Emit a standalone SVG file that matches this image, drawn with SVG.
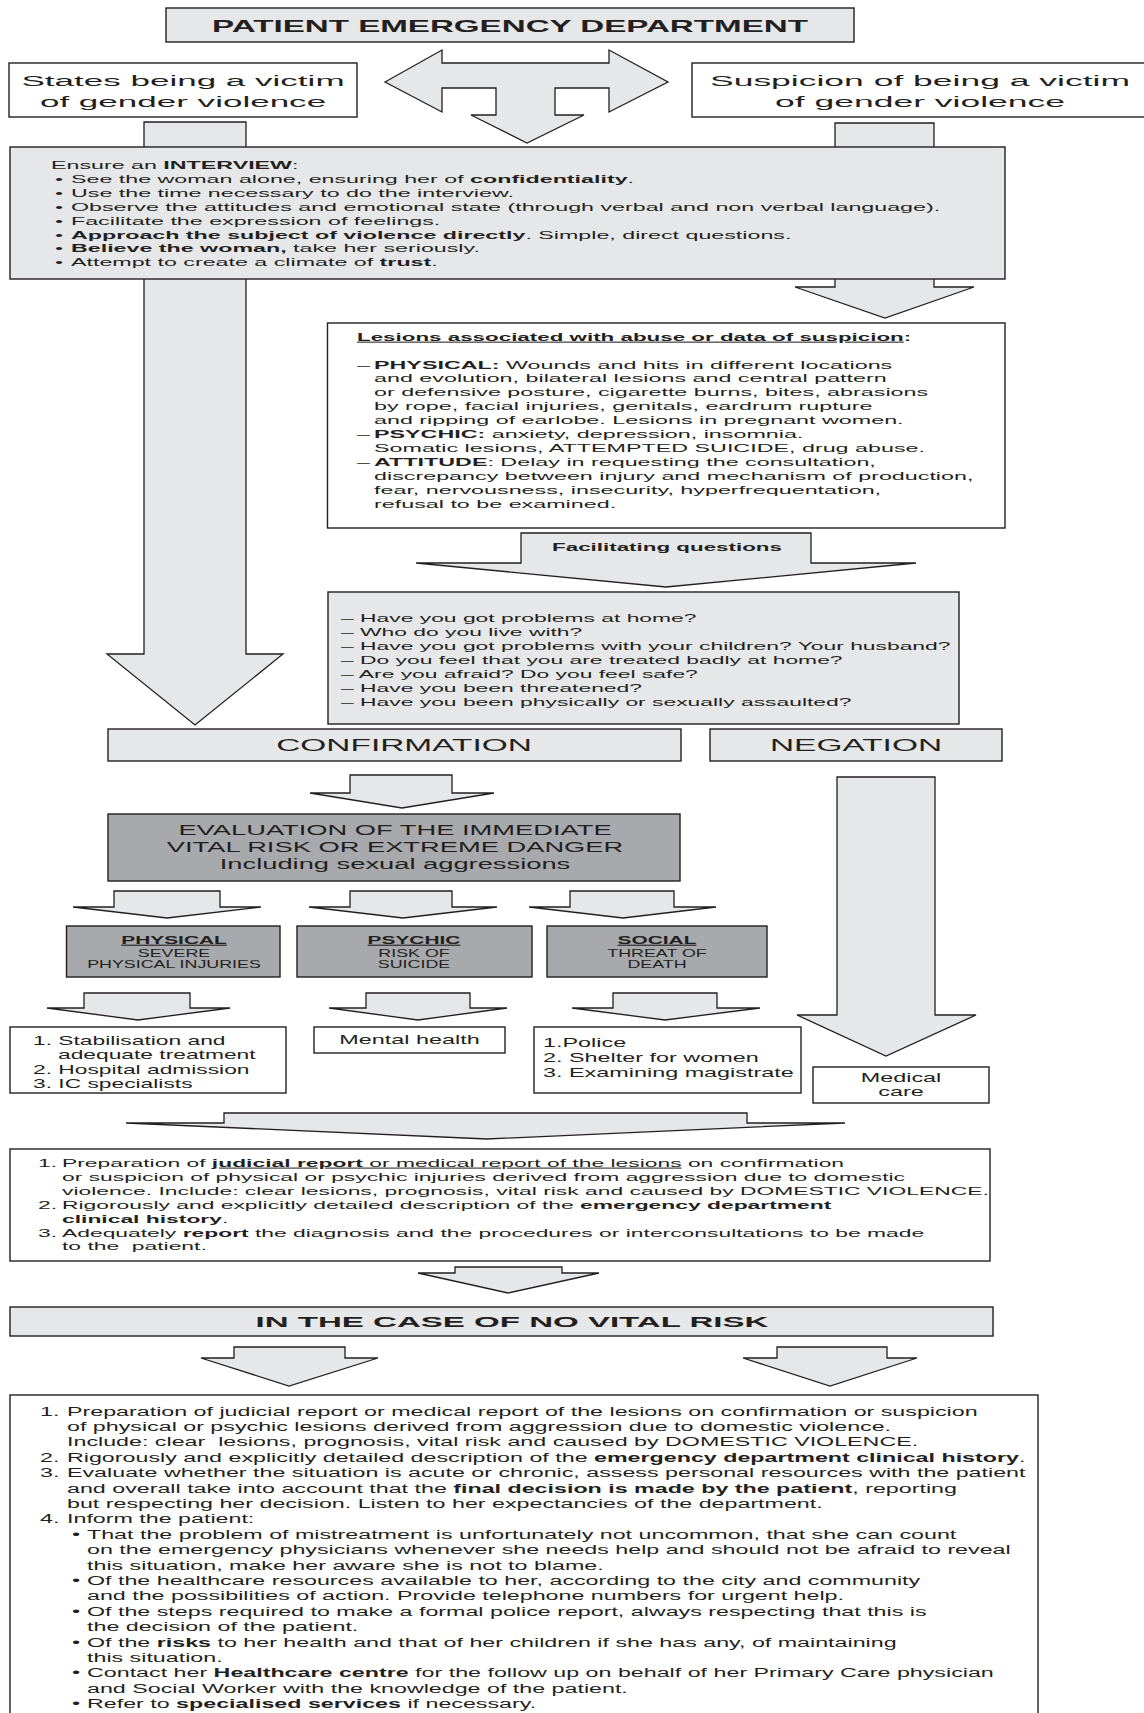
<svg xmlns="http://www.w3.org/2000/svg" width="1144" height="1713" viewBox="0 0 1144 1713">
<style>
.lt{fill:#e6e7e8;stroke:#231f20;stroke-width:1.4}
.dk{fill:#a7a9ac;stroke:#231f20;stroke-width:1.4}
.wh{fill:#ffffff;stroke:#231f20;stroke-width:1.4}
.ar{fill:#e6e7e8;stroke:#231f20;stroke-width:1.3;stroke-linejoin:miter}
text{font-family:"Liberation Sans",Arial,sans-serif;fill:#231f20}
.f10{font-size:10.2px}
.f105{font-size:10.5px}
.f11{font-size:11px}
.f12{font-size:12px}
.f125{font-size:12.5px}
.f14{font-size:14px}
.f145{font-size:14.5px}
.f155{font-size:15.5px}
.f16{font-size:16px}
.f17{font-size:17px}
.b{font-weight:bold}
.u{text-decoration:underline}
.m{text-anchor:middle}
</style>
<rect width="1144" height="1713" fill="#ffffff"/>

<g id="connectors">
  <polygon class="ar" points="385,82 442,50 442,63 609,63 609,50 668,82 609,112 609,88 555,88 555,115 584,115 527,143 471,115 496,115 496,88 442,88 442,112"/>
  <polygon class="ar" points="144,122 246,122 246,654 283,654 195,725 107,654 144,654"/>
  <polygon class="ar" points="835,123 934,123 934,287 974,287 885,318 795,287 835,287"/>
  <polygon class="ar" points="521,533 811,533 811,563 916,563 666,587 416,563 521,563"/>
  <text class="f105 b m" transform="matrix(2.13 0 0 1 667 551)">Facilitating questions</text>
  <polygon class="ar" points="350,775 452,775 452,793 494,793 402,808 310,793 350,793"/>
  <polygon class="ar" points="837,777 935,777 935,1015 976,1015 886,1056 797,1015 837,1015"/>
  <polygon class="ar" points="114,891 220,891 220,907 261,907 167,918 73,907 114,907"/>
  <polygon class="ar" points="350,891 452,891 452,907 497,907 403,918 309,907 350,907"/>
  <polygon class="ar" points="570,891 674,891 674,907 716,907 623,918 529,907 570,907"/>
  <polygon class="ar" points="84,993 190,993 190,1008 230,1008 138,1020 47,1008 84,1008"/>
  <polygon class="ar" points="366,993 470,993 470,1008 507,1008 418,1020 329,1008 366,1008"/>
  <polygon class="ar" points="613,993 717,993 717,1008 760,1008 665,1020 572,1008 613,1008"/>
  <polygon class="ar" points="224,1113 747,1113 747,1123 845,1123 487,1139 126,1123 224,1123"/>
  <polygon class="ar" points="455,1267 562,1267 562,1273 599,1273 508,1293 418,1273 455,1273"/>
  <polygon class="ar" points="234,1347 345,1347 345,1358 378,1358 289,1386 201,1358 234,1358"/>
  <polygon class="ar" points="777,1347 887,1347 887,1358 917,1358 830,1386 743,1358 777,1358"/>
</g>

<g id="n-title">
  <rect class="lt" x="166" y="8" width="688" height="34"/>
  <text class="f17 b m" transform="matrix(1.95 0 0 1 510 32)">PATIENT EMERGENCY DEPARTMENT</text>
</g>

<g id="n-states">
  <rect class="wh" x="9" y="63" width="348" height="54"/>
  <text class="f155 m" transform="matrix(2.26 0 0 1 183 86)">States being a victim</text>
  <text class="f155 m" transform="matrix(2.26 0 0 1 183 107)">of gender violence</text>
</g>

<g id="n-suspicion">
  <rect class="wh" x="692" y="63" width="460" height="54"/>
  <text class="f155 m" transform="matrix(2.29 0 0 1 920 86)">Suspicion of being a victim</text>
  <text class="f155 m" transform="matrix(2.29 0 0 1 920 107)">of gender violence</text>
</g>

<g id="n-interview">
  <rect class="lt" x="10" y="147" width="995" height="132"/>
  <text class="f10" transform="matrix(2.28 0 0 1 51 169)">Ensure an <tspan class="b">INTERVIEW</tspan>:</text>
  <text class="f10" transform="matrix(2.28 0 0 1 55 182.9)">•</text>
  <text class="f10" transform="matrix(2.28 0 0 1 71 182.9)">See the woman alone, ensuring her of <tspan class="b">confidentiality</tspan>.</text>
  <text class="f10" transform="matrix(2.28 0 0 1 55 196.8)">•</text>
  <text class="f10" transform="matrix(2.28 0 0 1 71 196.8)">Use the time necessary to do the interview.</text>
  <text class="f10" transform="matrix(2.28 0 0 1 55 210.7)">•</text>
  <text class="f10" transform="matrix(2.28 0 0 1 71 210.7)">Observe the attitudes and emotional state (through verbal and non verbal language).</text>
  <text class="f10" transform="matrix(2.28 0 0 1 55 224.6)">•</text>
  <text class="f10" transform="matrix(2.28 0 0 1 71 224.6)">Facilitate the expression of feelings.</text>
  <text class="f10" transform="matrix(2.28 0 0 1 55 238.5)">•</text>
  <text class="f10" transform="matrix(2.28 0 0 1 71 238.5)"><tspan class="b">Approach the subject of violence directly</tspan>. Simple, direct questions.</text>
  <text class="f10" transform="matrix(2.28 0 0 1 55 252.4)">•</text>
  <text class="f10" transform="matrix(2.28 0 0 1 71 252.4)"><tspan class="b">Believe the woman,</tspan> take her seriously.</text>
  <text class="f10" transform="matrix(2.28 0 0 1 55 266.3)">•</text>
  <text class="f10" transform="matrix(2.28 0 0 1 71 266.3)">Attempt to create a climate of <tspan class="b">trust</tspan>.</text>
</g>

<g id="n-lesions">
  <rect class="wh" x="327.5" y="323" width="677.5" height="205"/>
  <text class="f105 b" transform="matrix(2.13 0 0 1 357 341)"><tspan class="u">Lesions associated with abuse or data of suspicion</tspan>:</text>
  <text class="f105" transform="matrix(2.22 0 0 1 357 368.5)">–</text>
  <text class="f105" transform="matrix(2.22 0 0 1 374 368.5)"><tspan class="b">PHYSICAL:</tspan> Wounds and hits in different locations</text>
  <text class="f105" transform="matrix(2.22 0 0 1 374 382.45)">and evolution, bilateral lesions and central pattern</text>
  <text class="f105" transform="matrix(2.22 0 0 1 374 396.4)">or defensive posture, cigarette burns, bites, abrasions</text>
  <text class="f105" transform="matrix(2.22 0 0 1 374 410.35)">by rope, facial injuries, genitals, eardrum rupture</text>
  <text class="f105" transform="matrix(2.22 0 0 1 374 424.3)">and ripping of earlobe. Lesions in pregnant women.</text>
  <text class="f105" transform="matrix(2.22 0 0 1 357 438.25)">–</text>
  <text class="f105" transform="matrix(2.22 0 0 1 374 438.25)"><tspan class="b">PSYCHIC:</tspan> anxiety, depression, insomnia.</text>
  <text class="f105" transform="matrix(2.22 0 0 1 374 452.2)">Somatic lesions, ATTEMPTED SUICIDE, drug abuse.</text>
  <text class="f105" transform="matrix(2.22 0 0 1 357 466.15)">–</text>
  <text class="f105" transform="matrix(2.22 0 0 1 374 466.15)"><tspan class="b">ATTITUDE</tspan>: Delay in requesting the consultation,</text>
  <text class="f105" transform="matrix(2.22 0 0 1 374 480.1)">discrepancy between injury and mechanism of production,</text>
  <text class="f105" transform="matrix(2.22 0 0 1 374 494.05)">fear, nervousness, insecurity, hyperfrequentation,</text>
  <text class="f105" transform="matrix(2.22 0 0 1 374 508)">refusal to be examined.</text>
</g>

<g id="n-questions">
  <rect class="lt" x="328" y="592" width="631" height="132"/>
  <text class="f10" transform="matrix(2.24 0 0 1 341 622)">– Have you got problems at home?</text>
  <text class="f10" transform="matrix(2.24 0 0 1 341 636)">– Who do you live with?</text>
  <text class="f10" transform="matrix(2.24 0 0 1 341 650)">– Have you got problems with your children? Your husband?</text>
  <text class="f10" transform="matrix(2.24 0 0 1 341 664)">– Do you feel that you are treated badly at home?</text>
  <text class="f10" transform="matrix(2.24 0 0 1 341 678)">– Are you afraid? Do you feel safe?</text>
  <text class="f10" transform="matrix(2.24 0 0 1 341 692)">– Have you been threatened?</text>
  <text class="f10" transform="matrix(2.24 0 0 1 341 706)">– Have you been physically or sexually assaulted?</text>
</g>

<g id="n-confirmation">
  <rect class="lt" x="108" y="729" width="573" height="32"/>
  <text class="f16 m" transform="matrix(2.09 0 0 1 404 751)">CONFIRMATION</text>
</g>

<g id="n-negation">
  <rect class="lt" x="710" y="729" width="292" height="32"/>
  <text class="f16 m" transform="matrix(2.09 0 0 1 856 751)">NEGATION</text>
</g>

<g id="n-evaluation">
  <rect class="dk" x="108" y="814" width="572" height="67"/>
  <text class="f14 m" transform="matrix(1.95 0 0 1 395 835)">EVALUATION OF THE IMMEDIATE</text>
  <text class="f14 m" transform="matrix(1.95 0 0 1 395 852)">VITAL RISK OR EXTREME DANGER</text>
  <text class="f14 m" transform="matrix(1.95 0 0 1 395 869)">Including sexual aggressions</text>
</g>

<g id="n-physical">
  <rect class="dk" x="66.5" y="926" width="213.5" height="51"/>
  <text class="f11 b u m" transform="matrix(1.9 0 0 1 174 944)">PHYSICAL</text>
  <text class="f10 m" transform="matrix(1.75 0 0 1 174 957)">SEVERE</text>
  <text class="f10 m" transform="matrix(1.75 0 0 1 174 968)">PHYSICAL INJURIES</text>
</g>

<g id="n-psychic">
  <rect class="dk" x="297" y="926" width="235" height="51"/>
  <text class="f11 b u m" transform="matrix(1.9 0 0 1 414 944)">PSYCHIC</text>
  <text class="f10 m" transform="matrix(1.75 0 0 1 414 957)">RISK OF</text>
  <text class="f10 m" transform="matrix(1.75 0 0 1 414 968)">SUICIDE</text>
</g>

<g id="n-social">
  <rect class="dk" x="547" y="926" width="220" height="51"/>
  <text class="f11 b u m" transform="matrix(1.9 0 0 1 657 944)">SOCIAL</text>
  <text class="f10 m" transform="matrix(1.75 0 0 1 657 957)">THREAT OF</text>
  <text class="f10 m" transform="matrix(1.75 0 0 1 657 968)">DEATH</text>
</g>

<g id="n-stabilisation">
  <rect class="wh" x="10" y="1027" width="276" height="66"/>
  <text class="f12" transform="matrix(1.9 0 0 1 33 1045)">1. Stabilisation and</text>
  <text class="f12" transform="matrix(1.9 0 0 1 58 1059.3)">adequate treatment</text>
  <text class="f12" transform="matrix(1.9 0 0 1 33 1073.6)">2. Hospital admission</text>
  <text class="f12" transform="matrix(1.9 0 0 1 33 1087.9)">3. IC specialists</text>
</g>

<g id="n-mental">
  <rect class="wh" x="314" y="1027" width="191" height="26"/>
  <text class="f12 m" transform="matrix(1.95 0 0 1 409.5 1044)">Mental health</text>
</g>

<g id="n-police">
  <rect class="wh" x="534" y="1027" width="267" height="66"/>
  <text class="f12" transform="matrix(1.95 0 0 1 543 1047)">1.Police</text>
  <text class="f12" transform="matrix(1.95 0 0 1 543 1062)">2. Shelter for women</text>
  <text class="f12" transform="matrix(1.95 0 0 1 543 1077)">3. Examining magistrate</text>
</g>

<g id="n-medical">
  <rect class="wh" x="813" y="1067" width="176" height="36"/>
  <text class="f12 m" transform="matrix(1.95 0 0 1 901 1082)">Medical</text>
  <text class="f12 m" transform="matrix(1.95 0 0 1 901 1096)">care</text>
</g>

<g id="n-preparation">
  <rect class="wh" x="10" y="1149" width="980" height="112"/>
  <text class="f10" transform="matrix(2.24 0 0 1 38 1167)">1.</text>
  <text class="f10" transform="matrix(2.24 0 0 1 62 1167)">Preparation of <tspan class="u"><tspan class="b">judicial report</tspan> or medical report of the lesions</tspan> on confirmation</text>
  <text class="f10" transform="matrix(2.24 0 0 1 62 1180.9)">or suspicion of physical or psychic injuries derived from aggression due to domestic</text>
  <text class="f10" transform="matrix(2.24 0 0 1 62 1194.8)">violence. Include: clear lesions, prognosis, vital risk and caused by DOMESTIC VIOLENCE.</text>
  <text class="f10" transform="matrix(2.24 0 0 1 38 1208.7)">2.</text>
  <text class="f10" transform="matrix(2.24 0 0 1 62 1208.7)">Rigorously and explicitly detailed description of the <tspan class="b">emergency department</tspan></text>
  <text class="f10" transform="matrix(2.24 0 0 1 62 1222.6)"><tspan class="b">clinical history</tspan>.</text>
  <text class="f10" transform="matrix(2.24 0 0 1 38 1236.5)">3.</text>
  <text class="f10" transform="matrix(2.24 0 0 1 62 1236.5)">Adequately <tspan class="b">report</tspan> the diagnosis and the procedures or interconsultations to be made</text>
  <text class="f10" transform="matrix(2.24 0 0 1 62 1250.4)" xml:space="preserve">to the  patient.</text>
</g>

<g id="n-novital">
  <rect class="lt" x="10" y="1307" width="983" height="29"/>
  <text class="f145 b m" transform="matrix(2.28 0 0 1 512 1327)">IN THE CASE OF NO VITAL RISK</text>
</g>

<g id="n-final">
  <rect class="wh" x="10" y="1395" width="1028" height="330"/>
  <text class="f125" transform="matrix(1.86 0 0 1 40 1415.5)">1.</text>
  <text class="f125" transform="matrix(1.86 0 0 1 67 1415.5)">Preparation of judicial report or medical report of the lesions on confirmation or suspicion</text>
  <text class="f125" transform="matrix(1.86 0 0 1 67 1430.9)">of physical or psychic lesions derived from aggression due to domestic violence.</text>
  <text class="f125" transform="matrix(1.86 0 0 1 67 1446.3)" xml:space="preserve">Include: clear  lesions, prognosis, vital risk and caused by DOMESTIC VIOLENCE.</text>
  <text class="f125" transform="matrix(1.86 0 0 1 40 1461.7)">2.</text>
  <text class="f125" transform="matrix(1.86 0 0 1 67 1461.7)">Rigorously and explicitly detailed description of the <tspan class="b">emergency department clinical history</tspan>.</text>
  <text class="f125" transform="matrix(1.86 0 0 1 40 1477.1)">3.</text>
  <text class="f125" transform="matrix(1.86 0 0 1 67 1477.1)">Evaluate whether the situation is acute or chronic, assess personal resources with the patient</text>
  <text class="f125" transform="matrix(1.86 0 0 1 67 1492.5)">and overall take into account that the <tspan class="b">final decision is made by the patient</tspan>, reporting</text>
  <text class="f125" transform="matrix(1.86 0 0 1 67 1507.9)">but respecting her decision. Listen to her expectancies of the department.</text>
  <text class="f125" transform="matrix(1.86 0 0 1 40 1523.3)">4.</text>
  <text class="f125" transform="matrix(1.86 0 0 1 67 1523.3)">Inform the patient:</text>
  <text class="f125" transform="matrix(1.86 0 0 1 72 1538.7)">•</text>
  <text class="f125" transform="matrix(1.86 0 0 1 87 1538.7)">That the problem of mistreatment is unfortunately not uncommon, that she can count</text>
  <text class="f125" transform="matrix(1.86 0 0 1 87 1554.1)">on the emergency physicians whenever she needs help and should not be afraid to reveal</text>
  <text class="f125" transform="matrix(1.86 0 0 1 87 1569.5)">this situation, make her aware she is not to blame.</text>
  <text class="f125" transform="matrix(1.86 0 0 1 72 1584.9)">•</text>
  <text class="f125" transform="matrix(1.86 0 0 1 87 1584.9)">Of the healthcare resources available to her, according to the city and community</text>
  <text class="f125" transform="matrix(1.86 0 0 1 87 1600.3)">and the possibilities of action. Provide telephone numbers for urgent help.</text>
  <text class="f125" transform="matrix(1.86 0 0 1 72 1615.7)">•</text>
  <text class="f125" transform="matrix(1.86 0 0 1 87 1615.7)">Of the steps required to make a formal police report, always respecting that this is</text>
  <text class="f125" transform="matrix(1.86 0 0 1 87 1631.1)">the decision of the patient.</text>
  <text class="f125" transform="matrix(1.86 0 0 1 72 1646.5)">•</text>
  <text class="f125" transform="matrix(1.86 0 0 1 87 1646.5)">Of the <tspan class="b">risks</tspan> to her health and that of her children if she has any, of maintaining</text>
  <text class="f125" transform="matrix(1.86 0 0 1 87 1661.9)">this situation.</text>
  <text class="f125" transform="matrix(1.86 0 0 1 72 1677.3)">•</text>
  <text class="f125" transform="matrix(1.86 0 0 1 87 1677.3)">Contact her <tspan class="b">Healthcare centre</tspan> for the follow up on behalf of her Primary Care physician</text>
  <text class="f125" transform="matrix(1.86 0 0 1 87 1692.7)">and Social Worker with the knowledge of the patient.</text>
  <text class="f125" transform="matrix(1.86 0 0 1 72 1708.1)">•</text>
  <text class="f125" transform="matrix(1.86 0 0 1 87 1708.1)">Refer to <tspan class="b">specialised services</tspan> if necessary.</text>
</g>
</svg>
